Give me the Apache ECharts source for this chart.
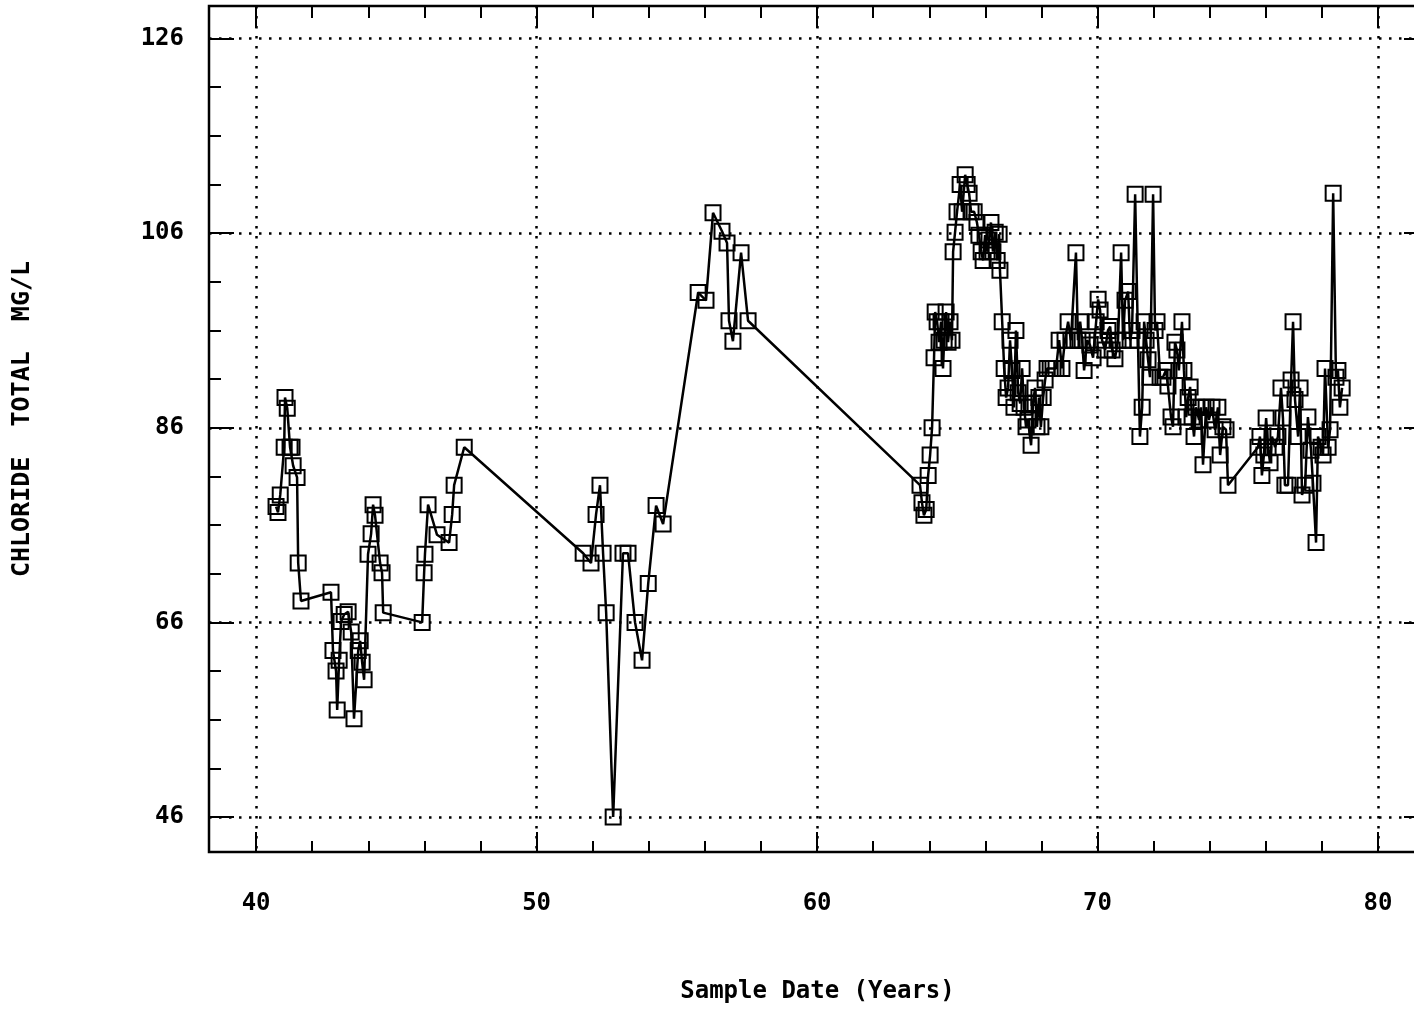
<!DOCTYPE html>
<html>
<head>
<meta charset="utf-8">
<title>Chloride Total</title>
<script src="https://cdn.jsdelivr.net/npm/echarts@6/dist/echarts.min.js"></script>
<style>
  html, body { margin: 0; padding: 0; background: #fff; }
  #chart { width: 1414px; height: 1010px; }
</style>
</head>
<body>
<div id="chart"></div>
<script>
// Sample dates (decimal years, 19xx)
const sampleYears = [
  40.71, 40.78, 40.86, 41.00, 41.03, 41.11, 41.21, 41.28, 41.32, 41.46, 41.50, 41.60,
  42.67, 42.74, 42.85, 42.89, 42.96, 43.03, 43.14, 43.28, 43.39, 43.49, 43.64, 43.71,
  43.78, 43.85, 43.99, 44.10, 44.17, 44.24, 44.42, 44.49, 44.53,
  45.92, 45.99, 46.02, 46.13, 46.45, 46.88, 46.99, 47.06, 47.42,
  51.66, 51.94, 52.12, 52.26, 52.37, 52.48, 52.73, 53.08, 53.26, 53.51, 53.76, 53.98,
  54.26, 54.51,
  55.76, 56.04, 56.29, 56.61, 56.79, 56.86, 57.00, 57.29, 57.54,
  63.67, 63.74, 63.81, 63.89, 63.96, 64.03, 64.10, 64.17, 64.21, 64.28, 64.35, 64.42,
  64.49, 64.53, 64.60, 64.67, 64.74, 64.81, 64.85, 64.92, 64.99, 65.10, 65.17, 65.28,
  65.35, 65.42, 65.49, 65.60, 65.70, 65.77, 65.85, 65.92, 65.99, 66.06, 66.13, 66.20,
  66.27, 66.35, 66.42, 66.49, 66.52, 66.60, 66.67, 66.74, 66.81, 66.88, 66.95, 67.02,
  67.09, 67.17, 67.24, 67.31, 67.38, 67.45, 67.52, 67.63, 67.70, 67.77, 67.84, 67.91,
  67.98, 68.06, 68.13, 68.20, 68.31, 68.41, 68.52, 68.63, 68.73, 68.84, 68.95, 69.05,
  69.23, 69.30, 69.38, 69.45, 69.52, 69.63, 69.73, 69.84, 69.95, 70.02, 70.09, 70.16,
  70.27, 70.37, 70.45, 70.52, 70.62, 70.73, 70.84, 70.91, 70.98, 71.09, 71.16, 71.23,
  71.34, 71.44, 71.51, 71.59, 71.66, 71.73, 71.80, 71.87, 71.98, 72.05, 72.12, 72.23,
  72.33, 72.44, 72.51, 72.62, 72.69, 72.76, 72.83, 72.90, 73.01, 73.08, 73.16, 73.23,
  73.30, 73.37, 73.44, 73.51, 73.62, 73.69, 73.76, 73.87, 73.97, 74.08, 74.19, 74.29,
  74.37, 74.47, 74.58, 74.65,
  75.72, 75.79, 75.86, 75.93, 76.01, 76.08, 76.15, 76.22, 76.33, 76.43, 76.54, 76.61,
  76.68, 76.79, 76.90, 76.97, 77.04, 77.15, 77.22, 77.29, 77.40, 77.50, 77.61, 77.68,
  77.79, 77.86, 77.97, 78.04, 78.11, 78.22, 78.29, 78.40, 78.50, 78.57, 78.64, 78.72
];

// Chloride, total (mg/L), one value per sample date
const chlorideMgL = [
  77.9, 77.3, 79.1, 84.0, 89.1, 88.0, 84.0, 84.0, 82.1, 80.9, 72.1, 68.2,
  69.1, 63.1, 61.0, 57.0, 62.1, 66.1, 66.8, 67.1, 65.0, 56.1, 63.1, 64.1,
  61.9, 60.1, 73.0, 75.1, 78.1, 77.0, 72.1, 71.1, 67.0,
  66.0, 71.1, 73.0, 78.1, 75.0, 74.2, 77.1, 80.1, 84.0,
  73.1, 72.1, 77.1, 80.1, 73.1, 67.0, 46.0, 73.1, 73.1, 66.0, 62.1, 70.0,
  78.0, 76.1,
  99.9, 99.1, 108.1, 106.2, 105.0, 97.0, 94.9, 104.0, 97.0,
  80.1, 78.3, 77.0, 77.6, 81.1, 83.2, 86.0, 93.2, 97.9, 96.9, 94.8, 96.9,
  92.1, 95.0, 97.9, 94.8, 96.9, 95.0, 104.1, 106.1, 108.2, 111.0, 108.2, 112.0,
  111.0, 110.1, 108.2, 108.2, 107.1, 105.8, 104.1, 103.2, 105.8, 104.1, 105.3, 107.1,
  104.1, 106.1, 103.2, 105.9, 102.2, 96.9, 92.1, 89.1, 90.1, 95.0, 91.9, 88.1,
  96.0, 89.6, 88.5, 92.1, 88.1, 86.1, 86.8, 84.2, 88.5, 90.1, 86.1, 89.1,
  86.1, 89.1, 90.9, 92.1, 92.1, 92.1, 92.1, 95.0, 92.1, 95.0, 96.9, 95.0,
  104.0, 95.0, 96.9, 95.0, 91.9, 95.0, 94.5, 93.2, 96.9, 99.2, 98.1, 95.0,
  94.0, 96.0, 96.4, 94.0, 93.1, 95.0, 104.0, 95.0, 99.1, 100.0, 95.0, 96.0,
  110.0, 95.0, 85.1, 88.1, 96.9, 95.0, 93.0, 91.2, 110.0, 96.0, 96.9, 91.2,
  91.2, 91.9, 90.3, 87.1, 86.1, 94.8, 94.0, 91.9, 96.9, 91.9, 87.1, 89.1,
  90.2, 87.1, 85.1, 88.1, 86.8, 88.1, 82.2, 88.1, 86.8, 88.1, 85.8, 88.1,
  83.2, 86.1, 85.8, 80.1,
  84.0, 85.1, 81.1, 83.2, 87.0, 84.0, 82.4, 85.1, 84.0, 85.1, 90.1, 87.0,
  80.1, 80.1, 90.9, 96.9, 88.9, 85.1, 90.1, 79.1, 80.1, 87.1, 83.7, 80.3,
  74.2, 85.1, 84.0, 83.2, 92.1, 84.0, 85.8, 110.1, 91.2, 91.9, 88.1, 90.1
];

// Axis ticks and labels
const xMajorTicks = [40, 50, 60, 70, 80];
const xMinorTicks = [42, 44, 46, 48, 52, 54, 56, 58, 62, 64, 66, 68, 72, 74, 76, 78];
const yMajorTicks = [46, 66, 86, 106, 126];
const yMinorTicks = [51, 56, 61, 71, 76, 81, 91, 96, 101, 111, 116, 121];

const X_MIN = 38.32, X_MAX = 81.71;
const Y_MIN = 42.4, Y_MAX = 129.35;

const FONT = '"DejaVu Sans Mono", "Liberation Mono", monospace';
const INK = '#000';

const points = sampleYears.map((yr, i) => [yr, chlorideMgL[i]]);

function xAxisDef(position, ticks, len, opts) {
  return Object.assign({
    type: 'value', position: position, min: X_MIN, max: X_MAX,
    axisLine: { show: false },
    axisTick: { show: true, inside: true, length: len, customValues: ticks,
                lineStyle: { color: INK, width: 2 } },
    axisLabel: { show: false },
    splitLine: { show: false }
  }, opts || {});
}
function yAxisDef(position, ticks, len, opts) {
  return Object.assign({
    type: 'value', position: position, min: Y_MIN, max: Y_MAX,
    axisLine: { show: false },
    axisTick: { show: true, inside: true, length: len, customValues: ticks,
                lineStyle: { color: INK, width: 2 } },
    axisLabel: { show: false },
    splitLine: { show: false }
  }, opts || {});
}

const gridDots = { show: true, lineStyle: { color: INK, width: 2.5, type: [2.5, 7.5] } };

const option = {
  animation: false,
  backgroundColor: '#fff',
  grid: { left: 209, right: -12, top: 6, bottom: 158, show: true,
          outerBoundsMode: 'none', containLabel: false,
          borderColor: INK, borderWidth: 2.5, backgroundColor: 'transparent' },
  xAxis: [
    xAxisDef('bottom', xMajorTicks, 20, {
      name: 'Sample Date (Years)', nameLocation: 'middle', nameGap: 128,
      nameTextStyle: { fontFamily: FONT, fontSize: 24, color: INK, fontWeight: 'bold' },
      axisLabel: { show: true, customValues: xMajorTicks, margin: 40,
                   fontFamily: FONT, fontSize: 24, color: INK, fontWeight: 'bold' },
      splitLine: gridDots
    }),
    xAxisDef('bottom', xMinorTicks, 11),
    xAxisDef('top', xMajorTicks, 22),
    xAxisDef('top', xMinorTicks, 12)
  ],
  yAxis: [
    yAxisDef('left', yMajorTicks, 25, {
      name: 'CHLORIDE  TOTAL  MG/L', nameLocation: 'middle', nameGap: 174, nameRotate: 90,
      nameTextStyle: { fontFamily: FONT, fontSize: 25, color: INK, fontWeight: 'bold',
                       padding: [0, 0, 0, 20] },
      axisLabel: { show: true, customValues: yMajorTicks, margin: 25,
                   fontFamily: FONT, fontSize: 24, color: INK, fontWeight: 'bold' },
      splitLine: gridDots
    }),
    yAxisDef('left', yMinorTicks, 12),
    yAxisDef('right', yMajorTicks, 22),
    yAxisDef('right', yMinorTicks, 11)
  ],
  series: [{
    type: 'line',
    xAxisIndex: 0,
    yAxisIndex: 0,
    data: points,
    symbol: 'rect',
    symbolSize: 15,
    showAllSymbol: true,
    lineStyle: { color: INK, width: 2.5 },
    itemStyle: { color: 'rgba(255,255,255,0)', borderColor: INK, borderWidth: 2 },
    emphasis: { disabled: true }
  }]
};

const chart = echarts.init(document.getElementById('chart'), null, { renderer: 'canvas' });
chart.setOption(option);
</script>
</body>
</html>
